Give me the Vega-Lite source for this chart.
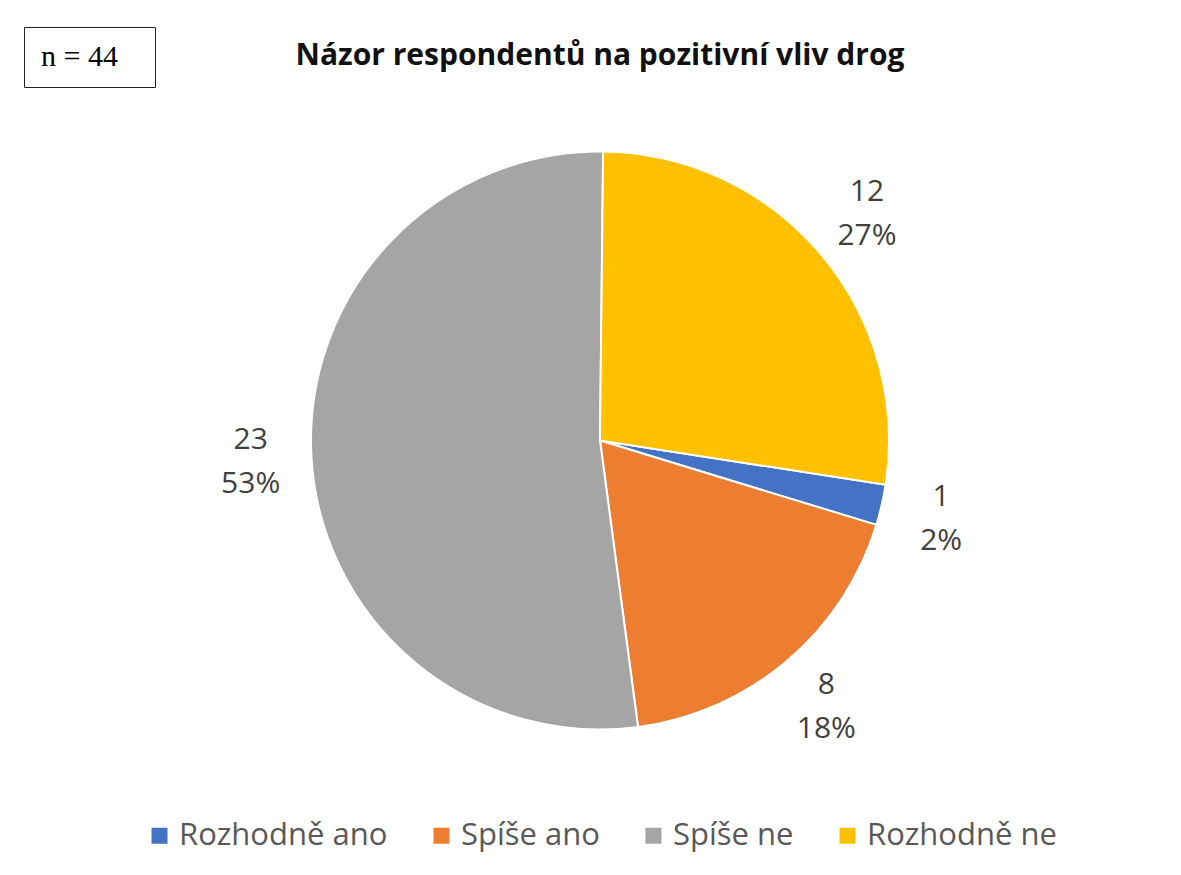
{
  "$schema": "https://vega.github.io/schema/vega-lite/v6.json",
  "width": 1181,
  "height": 875,
  "autosize": {"type": "fit", "contains": "padding"},
  "padding": {"left": 19, "top": 41, "right": 0, "bottom": 24},
  "background": "white",
  "title": {
    "text": "Názor respondentů na pozitivní vliv drog",
    "font": "Open Sans",
    "fontSize": 30,
    "fontWeight": "bold",
    "color": "#111111",
    "anchor": "middle",
    "offset": 22
  },
  "data": {
    "values": [
      {"odpoved": "Rozhodně ano", "pocet": 1, "podil": 0.02, "poradi": 1},
      {"odpoved": "Spíše ano", "pocet": 8, "podil": 0.18, "poradi": 2},
      {"odpoved": "Spíše ne", "pocet": 23, "podil": 0.53, "poradi": 3},
      {"odpoved": "Rozhodně ne", "pocet": 12, "podil": 0.27, "poradi": 4}
    ]
  },
  "encoding": {
    "theta": {
      "field": "pocet",
      "type": "quantitative",
      "stack": true,
      "scale": {"range": [1.7244, 8.0076]}
    },
    "order": {"field": "poradi", "type": "quantitative"}
  },
  "layer": [
    {
      "mark": {"type": "arc", "outerRadius": 289, "stroke": "white"},
      "encoding": {
        "color": {
          "field": "odpoved",
          "type": "nominal",
          "scale": {
            "domain": ["Rozhodně ano", "Spíše ano", "Spíše ne", "Rozhodně ne"],
            "range": ["#4472C4", "#ED7D31", "#A5A5A5", "#FFC000"]
          },
          "legend": {
            "orient": "bottom",
            "direction": "horizontal",
            "title": null,
            "symbolType": "square",
            "symbolSize": 256,
            "symbolStrokeWidth": 0,
            "labelFont": "Open Sans",
            "labelFontSize": 31,
            "labelColor": "#595959",
            "labelLimit": 400,
            "labelOffset": 4,
            "columnPadding": 38,
            "offset": 32
          }
        },
        "strokeWidth": {
          "datum": "n = 44\u2800",
          "type": "ordinal",
          "scale": {"type": "ordinal", "range": [2]},
          "legend": {
            "orient": "none",
            "legendX": 5,
            "legendY": -66,
            "title": null,
            "strokeColor": "#222222",
            "fillColor": "white",
            "padding": 15,
            "symbolSize": 0,
            "symbolOpacity": 0,
            "symbolStrokeWidth": 0,
            "labelFont": "Liberation Serif",
            "labelFontSize": 30,
            "labelColor": "#000000",
            "labelOffset": -28
          }
        }
      }
    },
    {
      "mark": {"type": "text", "radius": 350, "dy": -22, "font": "Open Sans", "fontSize": 30},
      "encoding": {
        "detail": {"field": "odpoved", "type": "nominal"},
        "text": {"field": "pocet", "type": "quantitative"},
        "color": {"value": "#404040"}
      }
    },
    {
      "mark": {"type": "text", "radius": 350, "dy": 22, "font": "Open Sans", "fontSize": 30},
      "encoding": {
        "detail": {"field": "odpoved", "type": "nominal"},
        "text": {"field": "podil", "type": "quantitative", "format": ".0%"},
        "color": {"value": "#404040"}
      }
    }
  ],
  "config": {
    "view": {"stroke": null},
    "legend": {"layout": {"bottom": {"anchor": "middle"}}}
  }
}
